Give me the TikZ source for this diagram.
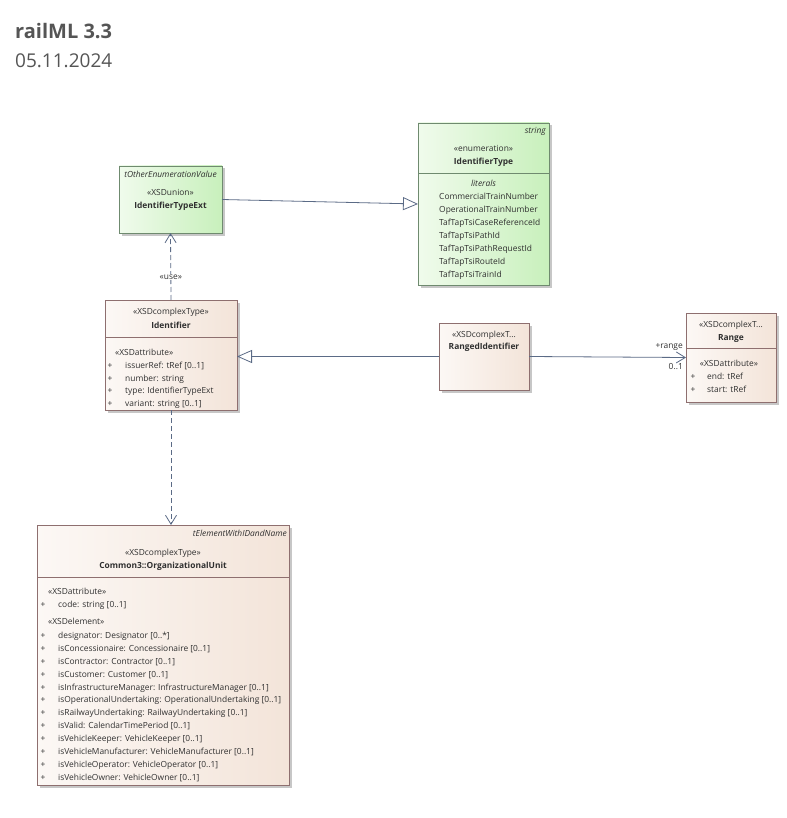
\documentclass[tikz,border=0pt]{standalone}
\usepackage{fontspec}
\setmainfont{Open Sans}
\usetikzlibrary{arrows.meta,shadows}

\definecolor{linec}{HTML}{5B6B86}
\definecolor{greenL}{HTML}{F0FBEC}
\definecolor{greenR}{HTML}{C8F0BC}
\definecolor{greenB}{HTML}{6F8A6F}
\definecolor{beigeL}{HTML}{FCF8F5}
\definecolor{beigeR}{HTML}{F3E4D9}
\definecolor{beigeB}{HTML}{8E6F6F}
\definecolor{txt}{HTML}{303030}
\definecolor{titlec}{HTML}{555555}

\tikzset{
  x=1pt, y=-1pt,
  box/.style={draw, line width=0.8pt, anchor=north west, inner sep=0pt, outer sep=0pt,
    drop shadow={shadow xshift=2.5pt, shadow yshift=-2.5pt, fill=black!22, opacity=1}},
  greenbox/.style={box, draw=greenB, left color=greenL, right color=greenR},
  beigebox/.style={box, draw=beigeB, left color=beigeL, right color=beigeR},
  txtsty/.style={font=\fontsize{8.4}{10}\selectfont, text=txt, inner sep=0pt},
  lbl/.style={txtsty, anchor=mid},
  lbll/.style={txtsty, anchor=mid west},
  lblr/.style={txtsty, anchor=mid east},
  bold/.style={font=\fontsize{8.4}{10}\selectfont\bfseries},
  ital/.style={font=\fontsize{8.4}{10}\selectfont\itshape},
  conn/.style={draw=linec, line width=0.8pt},
  gen/.style={conn, -{Triangle[open, length=15pt, width=13pt, fill=white]}},
  dep/.style={conn, dash pattern=on 5pt off 3pt, -{Straight Barb[length=9pt, width=11pt]}},
  assoc/.style={conn, -{Straight Barb[length=9pt, width=11pt]}},
  title/.style={inner sep=0pt, anchor=base west, text=titlec},
}

\begin{document}
\begin{tikzpicture}
\useasboundingbox[fill=white] (0,0) rectangle (786,818);

% heading
\node[title, font=\fontsize{20}{24}\selectfont\bfseries] (ttl) at (15,39) {railML 3.3};
\node[title, font=\fontsize{19}{23}\selectfont] (dt) at (15,68) {05.11.2024};

% IdentifierType enumeration
\node[greenbox, minimum width=131pt, minimum height=162pt] (enum) at (418,123) {};
\draw[greenB, line width=0.8pt] (418,173) -- (549,173);
\node[lblr, ital] at (546,131) {string};
\node[lbl] at (483.5,149) {«enumeration»};
\node[lbl, bold] at (483.5,162) {IdentifierType};
\node[lbl, ital] at (483.5,184) {literals};
\foreach \t [count=\i from 0] in {CommercialTrainNumber, OperationalTrainNumber,
    TafTapTsiCaseReferenceId, TafTapTsiPathId, TafTapTsiPathRequestId,
    TafTapTsiRouteId, TafTapTsiTrainId}
  \node[lbll] at (439,197+12.9*\i) {\t};

% IdentifierTypeExt union
\node[greenbox, minimum width=103pt, minimum height=67pt] (ext) at (119,166) {};
\node[lbl, ital] at (170.5,175) {tOtherEnumerationValue};
\node[lbl] at (170.5,193) {«XSDunion»};
\node[lbl, bold] at (170.5,206) {IdentifierTypeExt};

% Identifier
\node[beigebox, minimum width=132pt, minimum height=110pt] (ident) at (105,300) {};
\draw[beigeB, line width=0.8pt] (105,337) -- (237,337);
\node[lbl] at (171,312) {«XSDcomplexType»};
\node[lbl, bold] at (171,326) {Identifier};
\node[lbll] at (115,353) {«XSDattribute»};
\foreach \t [count=\i from 0] in {{issuerRef: tRef [0..1]}, {number: string},
    {type: IdentifierTypeExt}, {variant: string [0..1]}} {
  \node[lbl] at (110,366+12.6*\i) {+};
  \node[lbll] at (125,366+12.6*\i) {\t};
}

% RangedIdentifier
\node[beigebox, minimum width=90pt, minimum height=67pt] (ranged) at (439,323) {};
\node[lbl] at (484,335) {«XSDcomplexT...};
\node[lbl, bold] at (484,347) {RangedIdentifier};

% Range
\node[beigebox, minimum width=90pt, minimum height=89pt] (range) at (686,313) {};
\draw[beigeB, line width=0.8pt] (686,348) -- (776,348);
\node[lbl] at (731,325) {«XSDcomplexT...};
\node[lbl, bold] at (731,338) {Range};
\node[lbl] at (729,364) {«XSDattribute»};
\node[lbl] at (693,377) {+};
\node[lbll] at (707,377) {end: tRef};
\node[lbl] at (693,389.5) {+};
\node[lbll] at (707,389.5) {start: tRef};

% Common3::OrganizationalUnit
\node[beigebox, minimum width=252pt, minimum height=260pt] (org) at (37,525) {};
\draw[beigeB, line width=0.8pt] (37,577) -- (289,577);
\node[lblr, ital] at (287,534) {tElementWithIDandName};
\node[lbl] at (163,553) {«XSDcomplexType»};
\node[lbl, bold] at (163,565.5) {Common3::OrganizationalUnit};
\node[lbll] at (48,592) {«XSDattribute»};
\node[lbl] at (43,605) {+};
\node[lbll] at (58,605) {code: string [0..1]};
\node[lbll] at (48,622) {«XSDelement»};
\foreach \t [count=\i from 0] in {
    {designator: Designator [0..*]},
    {isConcessionaire: Concessionaire [0..1]},
    {isContractor: Contractor [0..1]},
    {isCustomer: Customer [0..1]},
    {isInfrastructureManager: InfrastructureManager [0..1]},
    {isOperationalUndertaking: OperationalUndertaking [0..1]},
    {isRailwayUndertaking: RailwayUndertaking [0..1]},
    {isValid: CalendarTimePeriod [0..1]},
    {isVehicleKeeper: VehicleKeeper [0..1]},
    {isVehicleManufacturer: VehicleManufacturer [0..1]},
    {isVehicleOperator: VehicleOperator [0..1]},
    {isVehicleOwner: VehicleOwner [0..1]}} {
  \node[lbl] at (43,636+12.85*\i) {+};
  \node[lbll] at (58,636+12.85*\i) {\t};
}

% connectors
\draw[gen] (ext.east) -- (enum.west);
\draw[dep] (ident.north) -- (ext.south)
  node[pos=0.35, lbl, fill=white, inner sep=1pt] (use) {«use»};
\draw[gen] (ranged.west) -- (ranged.west -| ident.east);
\draw[assoc] (ranged.east) -- (range.west);
\node[lblr] (rolename) at (683,346) {+range};
\node[lblr] (mult) at (683,367) {0..1};
\draw[dep] (ident.south) -- (ident.south |- org.north);
\end{tikzpicture}
\end{document}
